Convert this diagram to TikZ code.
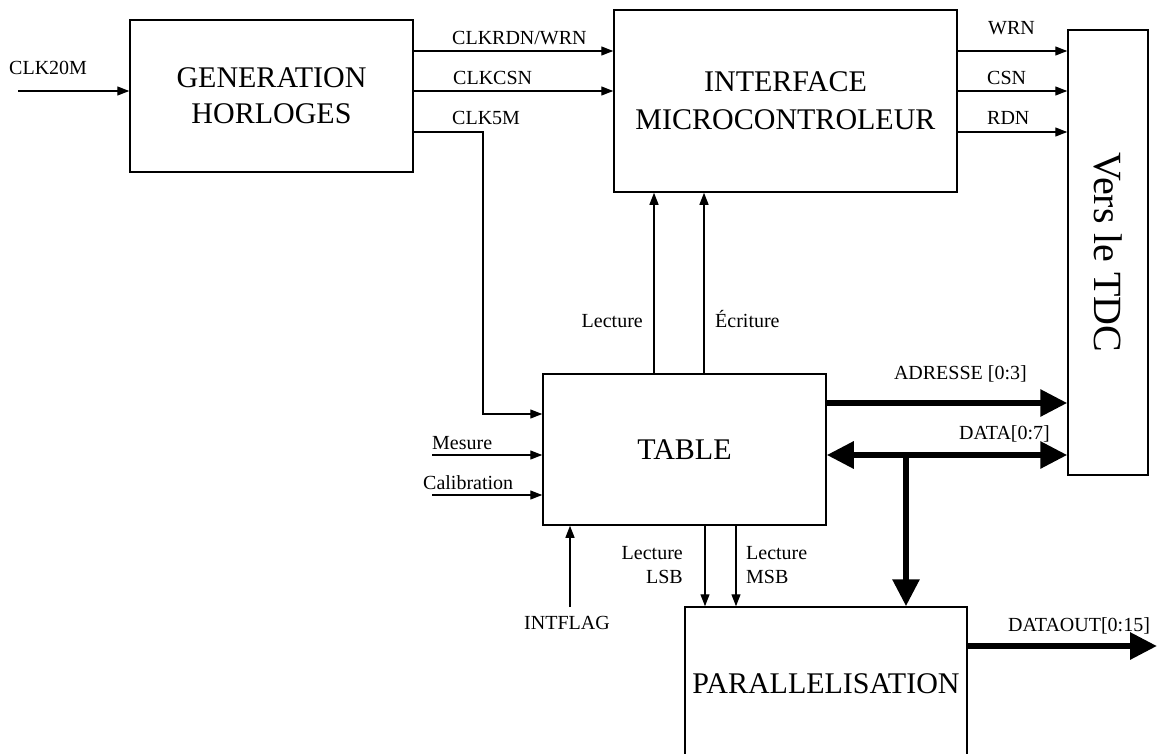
\documentclass[tikz,border=0pt]{standalone}
\usepackage{fontspec}
\setmainfont{Liberation Serif}
\usepackage{tikz}
\usetikzlibrary{arrows.meta}

\begin{document}
\begin{tikzpicture}[x=1pt, y=-1pt,
    blocnode/.style={rectangle, draw=black, line width=1.5pt, inner sep=0pt, align=center, font=\fontsize{30}{36}\selectfont},
    lblnode/.style={inner sep=0pt, font=\fontsize{20}{24}\selectfont},
    sig/.style={draw=black, line width=1.3pt, -{Triangle[length=12pt, width=9pt]}},
    bus/.style={draw=black, line width=6pt, -{Triangle[length=27pt, width=26pt]}},
    busboth/.style={draw=black, line width=6pt, {Triangle[length=27pt, width=26pt]}-{Triangle[length=27pt, width=26pt]}}
]
    \useasboundingbox (0,0) rectangle (1160,753);
    \clip (0,0) rectangle (1160,753);

    % Blocs
    \node (gen) [blocnode, minimum width=283pt, minimum height=152pt] at (271.5,96) {GENERATION\\HORLOGES};
    \node (iface) [blocnode, minimum width=343pt, minimum height=182pt, font=\fontsize{30}{38}\selectfont] at (785.5,101) {INTERFACE\\MICROCONTROLEUR};
    \node (tdc) [blocnode, rotate=-90, minimum width=445pt, minimum height=80pt, font=\fontsize{40}{48}\selectfont] at (1108,252.5) {Vers le TDC};
    \node (table) [blocnode, minimum width=283pt, minimum height=151pt] at (684.5,449.5) {TABLE};
    \node (para) [blocnode, minimum width=282pt, minimum height=153pt] at (826,683.5) {PARALLELISATION};

    % Free ends
    \coordinate (clkin) at (18,91);
    \coordinate (clk5) at (483,414);
    \coordinate (mes) at (432,455);
    \coordinate (cal) at (432,495);
    \coordinate (iflag) at (570,607);
    \coordinate (datajct) at (906,455);
    \coordinate (dout) at (1157,646);

    % Labels
    \node (lclkin) [lblnode, anchor=base west] at (9,74.5) {CLK20M};
    \node (lrdwr) [lblnode, anchor=base west] at (452,44) {CLKRDN/WRN};
    \node (lcsn) [lblnode, anchor=base west] at (453,84.5) {CLKCSN};
    \node (lclk5) [lblnode, anchor=base west] at (452,124.5) {CLK5M};
    \node (lwrn) [lblnode, anchor=base west] at (988,34) {WRN};
    \node (lcsnout) [lblnode, anchor=base west] at (987,84.5) {CSN};
    \node (lrdn) [lblnode, anchor=base west] at (987,124.5) {RDN};
    \node (llect) [lblnode, anchor=base east] at (643,327.5) {Lecture};
    \node (lecri) [lblnode, anchor=base west] at (715,327.5) {Écriture};
    \node (ladr) [lblnode, anchor=base east] at (1027,379.5) {ADRESSE [0:3]};
    \node (ldata) [lblnode, anchor=base east] at (1050,439.5) {DATA[0:7]};
    \node (ldout) [lblnode, anchor=base west] at (1008,631.5) {DATAOUT[0:15]};
    \node (lmes) [lblnode, anchor=base west] at (432,449.5) {Mesure};
    \node (lcal) [lblnode, anchor=base west] at (423,489.5) {Calibration};
    \node (lflag) [lblnode, anchor=base] at (567,629.5) {INTFLAG};
    \node (llsb) [lblnode, anchor=east, align=right] at (683,565) {Lecture\\LSB};
    \node (lmsb) [lblnode, anchor=west, align=left] at (746,565) {Lecture\\MSB};

    % Arrows
    \draw [sig] (clkin) -- (clkin -| gen.west);
    \draw [sig] (gen.east |- 0,51) -- (iface.west |- 0,51);
    \draw [sig] (gen.east |- 0,91) -- (iface.west |- 0,91);
    \draw [sig] (gen.east |- 0,132) -| (clk5) -- (clk5 -| table.west);
    \draw [sig] (iface.east |- 0,51) -- (tdc.south |- 0,51);
    \draw [sig] (iface.east |- 0,91) -- (tdc.south |- 0,91);
    \draw [sig] (iface.east |- 0,132) -- (tdc.south |- 0,132);
    \draw [sig] (table.north -| 654,0) -- (iface.south -| 654,0);
    \draw [sig] (table.north -| 704,0) -- (iface.south -| 704,0);
    \draw [sig] (mes) -- (mes -| table.west);
    \draw [sig] (cal) -- (cal -| table.west);
    \draw [sig] (iflag) -- (iflag |- table.south);
    \draw [sig] (table.south -| 705,0) -- (para.north -| 705,0);
    \draw [sig] (table.south -| 736,0) -- (para.north -| 736,0);

    % Bus
    \draw [bus] (table.east |- 0,403) -- (tdc.south |- 0,403);
    \draw [busboth] (datajct -| table.east) -- (datajct -| tdc.south);
    \draw [bus] (datajct) -- (datajct |- para.north);
    \draw [bus] (dout -| para.east) -- (dout);
\end{tikzpicture}
\end{document}
